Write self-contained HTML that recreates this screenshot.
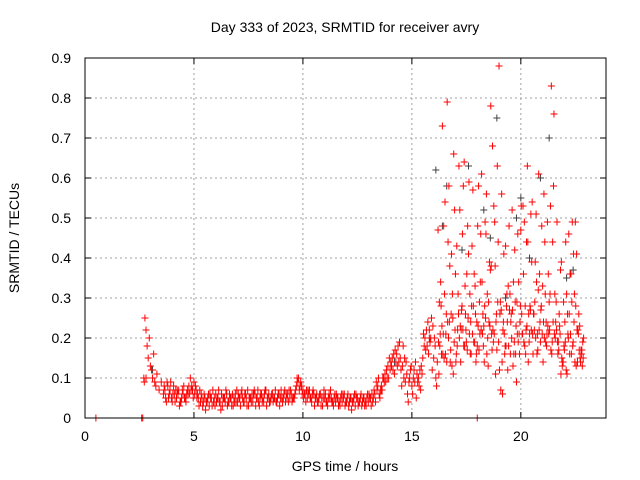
<!DOCTYPE html>
<html><head><meta charset="utf-8"><style>
body{margin:0;background:#fff}
svg{display:block;font-family:"Liberation Sans",sans-serif}
</style></head><body>
<svg id="chart" width="640" height="480" xmlns="http://www.w3.org/2000/svg">
<rect width="640" height="480" fill="#fff"/>
<text x="345" y="32" font-size="14" text-anchor="middle">Day 333 of 2023, SRMTID for receiver avry</text>
<text x="345" y="471" font-size="14" text-anchor="middle">GPS time / hours</text>
<text transform="translate(19,238) rotate(-90)" font-size="14" text-anchor="middle">SRMTID / TECUs</text>
<g id="grid"></g><g id="ticks"></g><g id="marks"></g>
<rect x="85" y="58" width="521" height="360" fill="none" stroke="#000" stroke-width="1"/>
</svg>
<script>
const xTicks=[0,5,10,15,20];
const yTicks=[0,0.1,0.2,0.3,0.4,0.5,0.6,0.7,0.8,0.9];
const yTickLabels=["0","0.1","0.2","0.3","0.4","0.5","0.6","0.7","0.8","0.9"];
const spikeHours=[0.5,2.6,2.65,18.0,2.7,2.72,2.75,2.8,2.8,2.85,2.9,2.95,3.0,3.05,3.1,3.15,3.2,3.25,3.3,3.4,3.5];
const spikeValues=[0,0,0,0,0.1,0.09,0.25,0.22,0.1,0.18,0.15,0.2,0.13,0.12,0.1,0.16,0.09,0.08,0.11,0.07,0.09];
const bandStart=3.6;
const bandValuesA=[.06,.05,.08,.07,.04,.06,.05,.07,.04,.06,.05,.07,.06,.08,.09,.07,.05,.04,.03,.05,.04,.03,.05,.04,.06,.05,.04,.03,.05,.06,.04,.05,.03,.06,.04,.05,.07,.04,.05,.03,.05,.04,.06,.05,.03,.06,.04,.07,.05,.04,.06,.05,.04,.06,.07,.05,.04,.06,.05,.04,.05,.08,.10,.09,.07,.06,.05,.07,.04,.06,.05,.04,.06,.03,.05,.04,.06,.05,.03,.04,.05,.03,.04,.06,.04,.03,.05,.04,.03,.05,.04,.03,.05,.03,.04,.05,.04,.06,.07];
const bandValuesB=[.08,.04,.05,.09,.06,.04,.07,.03,.05,.08,.04,.06,.10,.07,.06,.05,.03,.06,.04,.02,.05,.06,.03,.05,.04,.07,.02,.05,.04,.03,.06,.03,.05,.04,.06,.03,.05,.06,.03,.05,.04,.06,.03,.07,.05,.04,.06,.03,.06,.05,.04,.07,.05,.03,.05,.06,.06,.04,.07,.05,.06,.10,.07,.08,.05,.04,.07,.05,.06,.03,.06,.05,.03,.05,.06,.03,.05,.04,.05,.06,.03,.05,.06,.03,.05,.04,.02,.05,.06,.03,.05,.04,.03,.05,.06,.03,.05,.04,.08];
const bandValuesC=[.07,.09,.06,.05,.08,.07,.06,.04,.07,.05,.06,.08,.07,.05,.08,.06,.07,.05,.06,.04,.06,.05,.07,.03,.05,.04,.06,.05,.07,.04,.05,.06,.04,.07,.05,.06,.04,.06,.07,.05,.06,.07,.05,.04,.06,.05,.07,.05,.04,.06,.05,.04,.06,.05,.04,.07,.05,.07,.06,.05,.07,.09,.08,.06,.06,.07,.06,.05,.07,.05,.04,.06,.05,.07,.04,.05,.07,.04,.06,.05,.04,.06,.05,.04,.06,.05,.04,.06,.05,.04,.06,.05,.04,.06,.05,.06,.07,.09,.10];
const riseStart=13.5;
const riseValuesA=[.06,.08,.1,.09,.13,.12,.15,.11,.16,.14,.12,.18,.09,.06,.1,.08,.12,.05,.1,.07,.15,.2,.18,.22,.25,.15,.1];
const riseValuesB=[.05,.07,.09,.12,.1,.14,.12,.17,.13,.19,.08,.1,.14,.04,.12,.06,.09,.11,.08,.13,.21,.17,.24,.19,.12,.2,.08];
const riseValuesC=[.07,.1,.11,.1,.15,.13,.16,.14,.18,.15,.13,.15,.11,.09,.13,.1,.14,.09,.12,.11,.18,.22,.16,.2,.23,.18,.14];
const stormStart=16.2;
const stormValuesA=[.47,.21,.73,.31,.14,.58,.26,.11,.36,.22,.52,.28,.64,.19,.41,.24,.57,.33,.18,.29,.61,.23,.46,.13,.37,.68,.49,.17,.88,.27,.24,.43,.12,.31,.52,.19,.09,.34,.47,.53,.28,.63,.21,.39,.26,.51,.32,.19,.33,.44,.21,.29,.83,.58,.24,.16,.21,.13,.17,.31,.46,.36,.19,.49,.14,.23,.17];
const stormValuesB=[.19,.34,.16,.54,.79,.24,.41,.66,.14,.31,.23,.46,.18,.36,.59,.16,.28,.26,.48,.21,.34,.14,.56,.29,.78,.22,.38,.63,.12,.56,.41,.18,.33,.16,.27,.42,.29,.21,.53,.36,.16,.44,.28,.54,.22,.34,.61,.27,.14,.31,.49,.22,.16,.76,.29,.19,.37,.14,.24,.11,.26,.16,.41,.28,.22,.15,.13];
const stormValuesC=[.11,.28,.21,.16,.24,.38,.13,.19,.16,.26,.14,.22,.33,.17,.21,.28,.19,.14,.23,.34,.21,.28,.16,.24,.38,.19,.11,.29,.26,.14,.21,.28,.18,.24,.13,.29,.21,.16,.26,.19,.22,.14,.27,.21,.29,.16,.22,.28,.24,.19,.23,.31,.19,.21,.22,.17,.11,.14,.19,.26,.16,.29,.24,.13,.21,.14,.19];
const stormValuesD=[.29,.16,.48,.21,.44,.14,.31,.52,.43,.63,.22,.58,.26,.48,.31,.43,.36,.16,.58,.46,.26,.49,.31,.39,.21,.53,.24,.44,.29,.06,.16,.31,.48,.26,.34,.16,.46,.24,.21,.49,.44,.26,.51,.16,.39,.21,.36,.48,.56,.24,.36,.53,.44,.31,.49,.26,.39,.29,.44,.21,.36,.49,.31,.41,.26,.17,.15];
const stormValuesE=[.18,.23,.15,.26,.2,.17,.25,.22,.18,.2,.27,.18,.22,.25,.16,.21,.19,.24,.17,.22,.18,.25,.2,.23,.17,.21,.26,.19,.07,.22,.18,.24,.27,.2,.16,.23,.19,.28,.21,.18,.23,.19,.22,.26,.2,.17,.24,.21,.2,.18,.21,.17,.24,.2,.19,.23,.15,.18,.12,.2,.21,.18,.14,.22,.17,.16,.2];
const blackHours=[2.8,3.1,13.6,14.2,15.8,16.1,16.4,16.6,17.3,17.6,18.3,18.6,18.9,19.3,19.8,20.0,20.4,20.9,21.3,22.1,22.4];
const blackValues=[0.1,0.12,0.07,0.14,0.2,0.62,0.48,0.58,0.42,0.63,0.52,0.45,0.75,0.3,0.5,0.55,0.4,0.6,0.7,0.35,0.37];

const X0=85,X1=608,Y0=418,Y1=58;
const xs=h=>X0+(h/24)*(X1-X0);
const ys=v=>Y0-(v/0.9)*(Y0-Y1);
const NS="http://www.w3.org/2000/svg";
function mk(tag,attrs,parent){const e=document.createElementNS(NS,tag);for(const k in attrs)e.setAttribute(k,attrs[k]);parent.appendChild(e);return e;}
const grid=document.getElementById('grid'),ticks=document.getElementById('ticks'),marks=document.getElementById('marks');
xTicks.forEach(t=>{const x=xs(t);
 if(t>0){const g=mk('line',{x1:x,x2:x,y1:58,y2:418,stroke:'#a0a0a0','stroke-dasharray':'2,3'},grid);
 
 }
 mk('line',{x1:x,x2:x,y1:418,y2:412,stroke:'#000'},ticks);
 mk('line',{x1:x,x2:x,y1:58,y2:64,stroke:'#000'},ticks);
 const l=mk('text',{x:x,y:441,'font-size':14,'text-anchor':'middle'},ticks);l.textContent=t;
 
 });
yTicks.forEach((t,i)=>{const y=ys(t);
 if(i>0&&i<yTicks.length-1){const g=mk('line',{x1:85,x2:606,y1:y,y2:y,stroke:'#a0a0a0','stroke-dasharray':'2,3'},grid);
 
 }
 mk('line',{x1:85,x2:91,y1:y,y2:y,stroke:'#000'},ticks);
 mk('line',{x1:600,x2:606,y1:y,y2:y,stroke:'#000'},ticks);
 const l=mk('text',{x:71,y:y+5,'font-size':14,'text-anchor':'end'},ticks);l.textContent=yTickLabels[i];
 
 });
function plus(h,v,color,name){const x=xs(h),y=ys(v);
 const p=mk('path',{d:`M${x-3.5},${y}h7M${x},${y-3.5}v7`,stroke:color,'stroke-width':1,fill:'none'},marks);
 
 }
blackHours.forEach((h,i)=>plus(h,blackValues[i],'#404040','black-point'));
spikeHours.forEach((h,i)=>plus(h,spikeValues[i],'#ff0000','red-point'));
[bandValuesA,bandValuesB,bandValuesC].forEach((arr,k)=>arr.forEach((v,i)=>plus(bandStart+k*0.033+i*0.1,v,'#ff0000','red-point')));
[riseValuesA,riseValuesB,riseValuesC].forEach((arr,k)=>arr.forEach((v,i)=>plus(riseStart+k*0.033+i*0.1,v,'#ff0000','red-point')));
[stormValuesA,stormValuesB,stormValuesC,stormValuesD,stormValuesE].forEach((arr,k)=>arr.forEach((v,i)=>plus(stormStart+k*0.02+i*0.1,v,'#ff0000','red-point')));
</script>
</body></html>
